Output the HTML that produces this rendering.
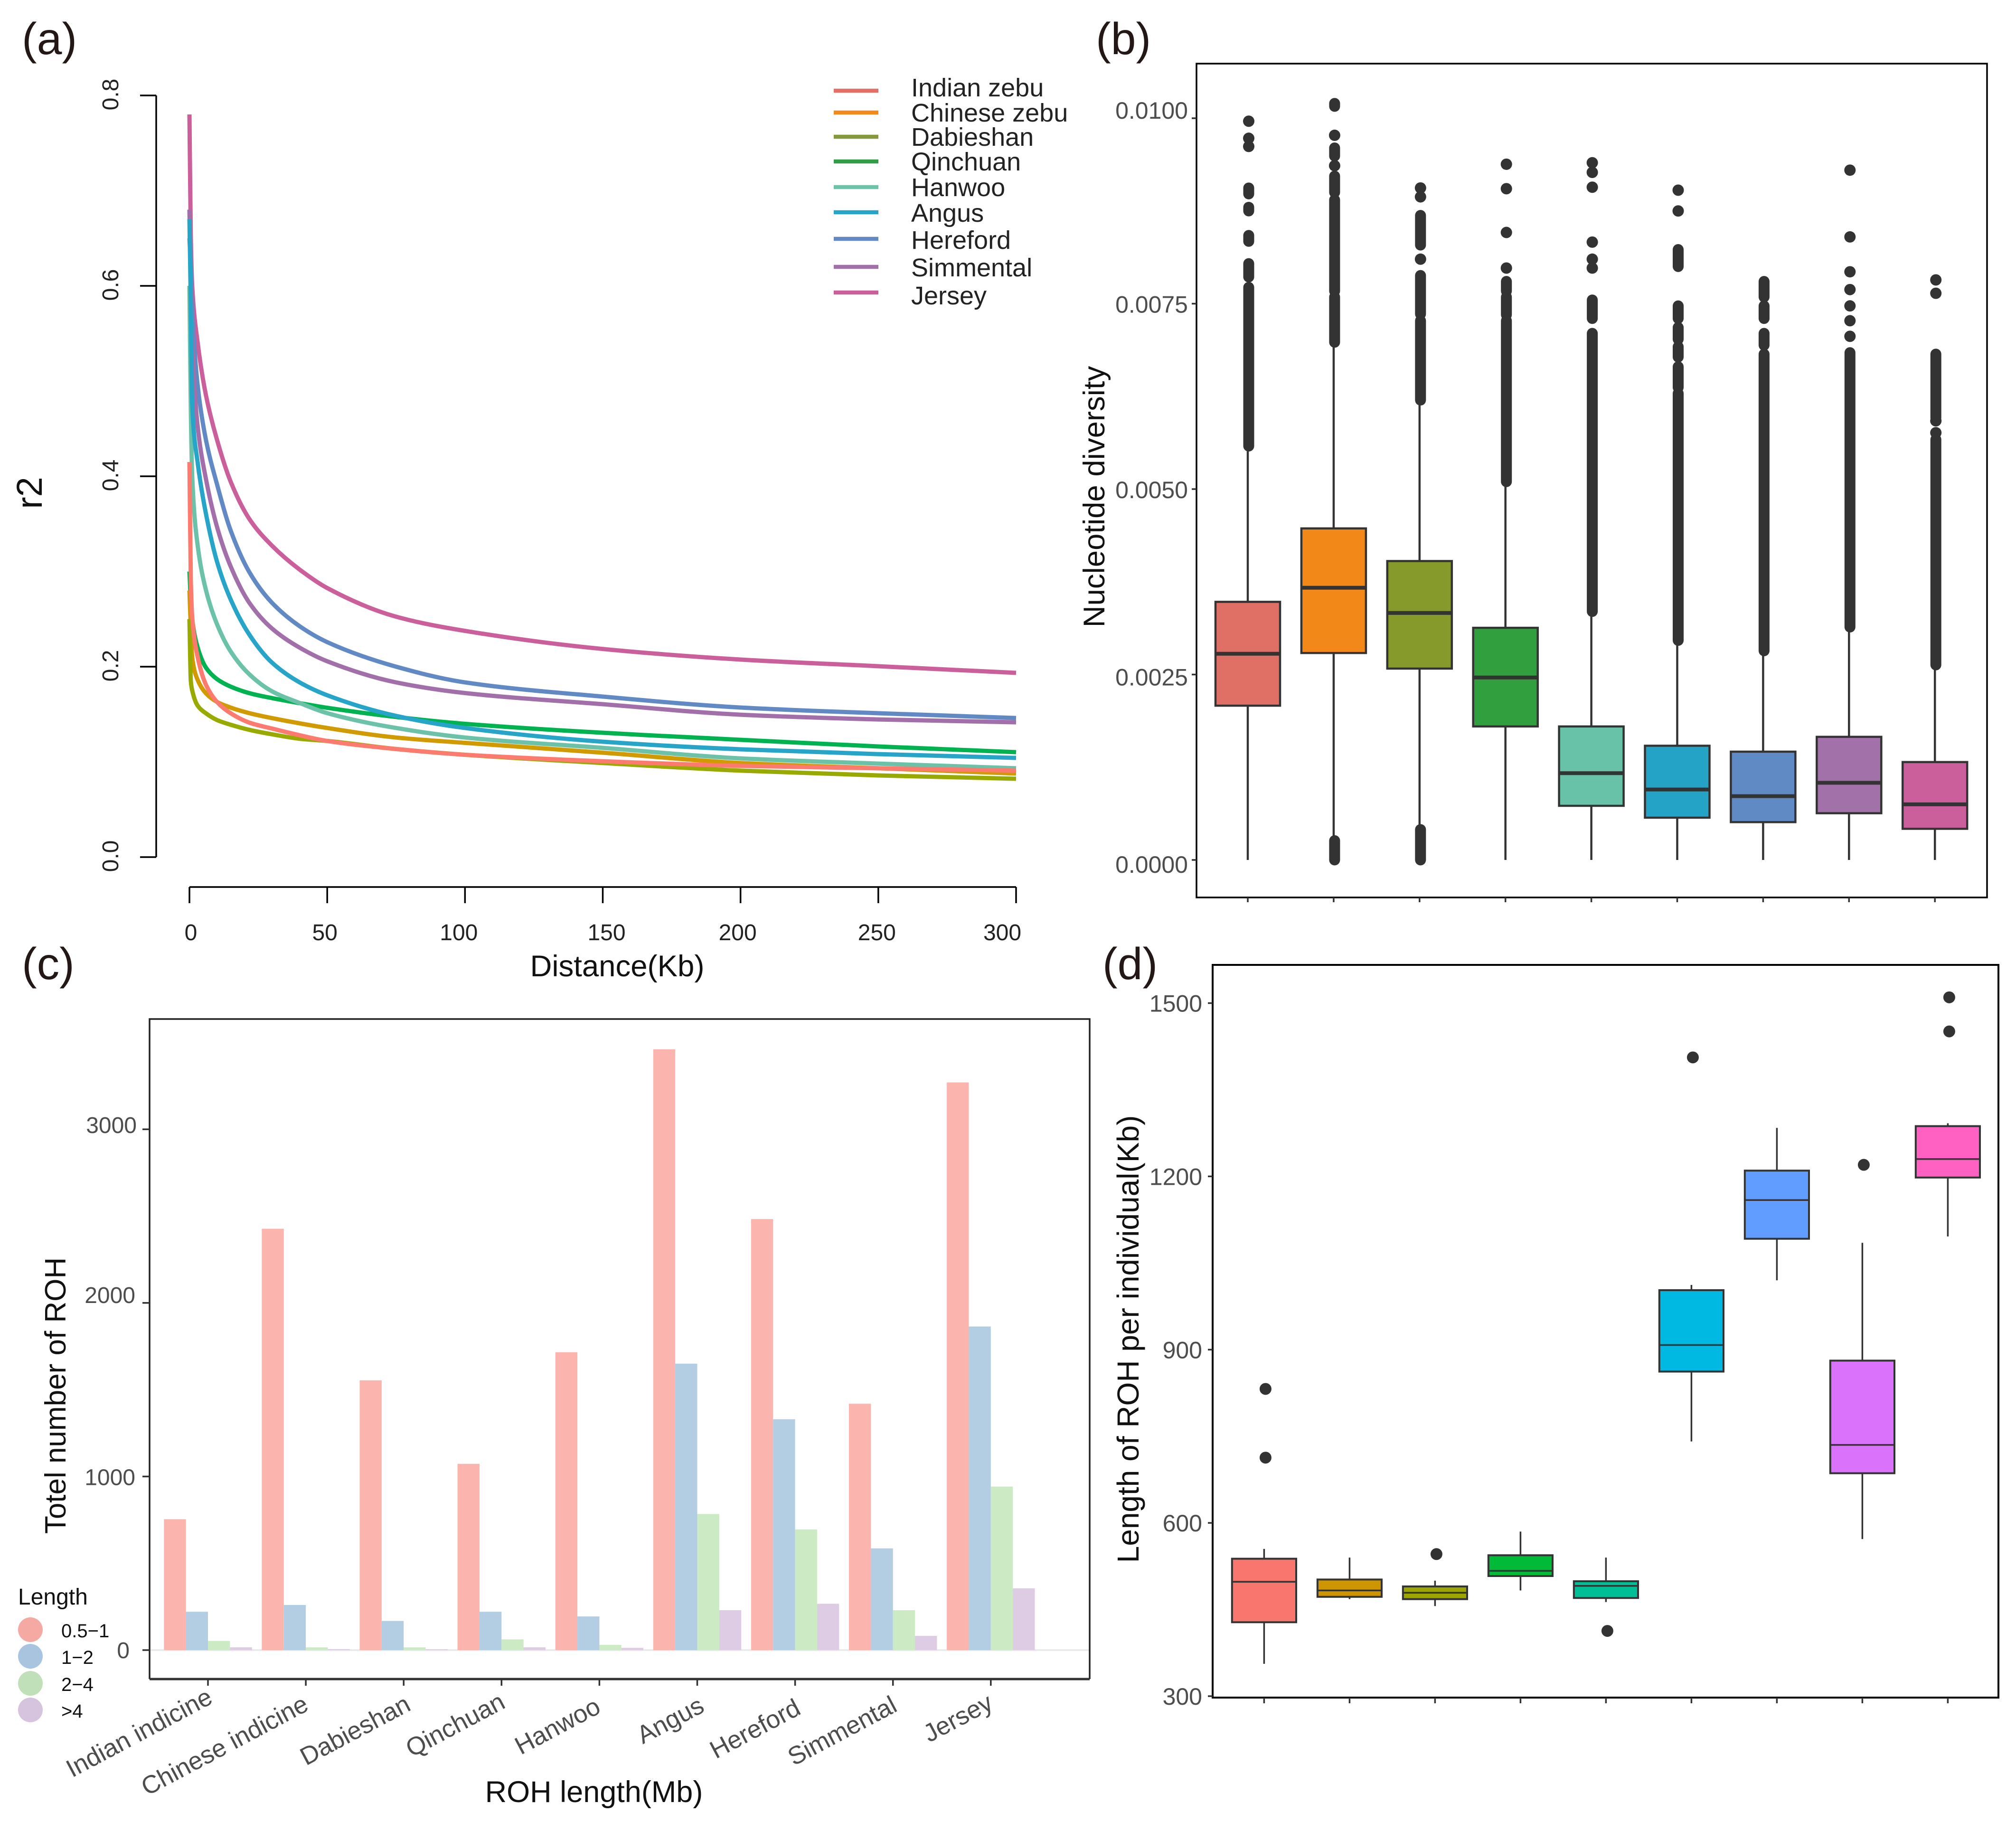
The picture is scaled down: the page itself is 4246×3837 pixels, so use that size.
<!DOCTYPE html>
<html lang="en">
<head>
<meta charset="utf-8">
<title>Bovine LD, diversity and ROH panels</title>
<style>
html,body{margin:0;padding:0;background:#fff}
svg{display:block}
text{font-family:"Liberation Sans",sans-serif}
</style>
</head>
<body>
<svg id="fig" xmlns="http://www.w3.org/2000/svg" width="4246" height="3837" viewBox="0 0 4246 3837">
  <rect width="4246" height="3837" fill="#fff"/>
  <g font-size="95" fill="#231815">
    <text x="46" y="114">(a)</text>
    <text x="2308" y="114">(b)</text>
    <text x="46" y="2062">(c)</text>
    <text x="2322" y="2062">(d)</text>
  </g>
  <g id="panelA">
    <text font-size="76" text-anchor="middle" transform="translate(88 1038) rotate(-90)" fill="#111">r2</text>
    <text font-size="63.5" text-anchor="middle" x="1300" y="2056" fill="#111">Distance(Kb)</text>
  </g>
  <g id="panelB">
    <text font-size="63.5" text-anchor="middle" transform="translate(2326 1046) rotate(-90)" fill="#111">Nucleotide diversity</text>
  </g>
  <g id="panelC">
    <text font-size="62" text-anchor="middle" transform="translate(138 2939) rotate(-90)" fill="#111">Totel number of ROH</text>
    <text font-size="63" text-anchor="middle" x="1251" y="3795" fill="#111">ROH length(Mb)</text>
    <text font-size="48" x="38" y="3379" fill="#111">Length</text>
  </g>
  <g id="panelD">
    <text font-size="64" text-anchor="middle" transform="translate(2398 2820) rotate(-90)" fill="#111">Length of ROH per individual(Kb)</text>
  </g>
</svg>
<script>
// ---------- Panel (a): LD decay ----------
const ldDistanceKb = [0,0.5,1,3,6,10,15,22,30,40,50,75,100,150,200,250,300];
const ldNames = ["Indian zebu","Chinese zebu","Dabieshan","Qinchuan","Hanwoo","Angus","Hereford","Simmental","Jersey"];
const r2IndianZebu  = [.415,.29,.252,.21,.181,.163,.151,.141,.135,.128,.122,.1135,.1075,.1007,.0958,.0933,.0908];
const r2ChineseZebu = [.28,.24,.21,.186,.172,.163,.157,.151,.146,.1405,.1356,.1256,.12,.1097,.0988,.0933,.0878];
const r2Dabieshan   = [.25,.185,.175,.159,.151,.144,.139,.1335,.129,.1243,.122,.1135,.1075,.0988,.0908,.0858,.0823];
const r2Qinchuan    = [.30,.27,.25,.22,.199,.187,.179,.172,.167,.1617,.1568,.1472,.14,.1306,.1232,.1162,.1102];
const r2Hanwoo      = [.60,.47,.40,.327,.2803,.2447,.2158,.1913,.1741,.1619,.1512,.1356,.1256,.1147,.1037,.0982,.0933];
const r2Angus       = [.67,.58,.475,.414,.3605,.3104,.2703,.2325,.2042,.1835,.170,.1483,.1356,.1212,.1132,.1082,.1042];
const r2Hereford    = [.65,.62,.575,.495,.438,.3917,.3427,.298,.267,.2425,.2258,.2,.1835,.1686,.1571,.1511,.1461];
const r2Simmental   = [.68,.60,.54,.452,.397,.347,.305,.266,.24,.22,.2057,.1835,.1723,.1606,.1496,.1446,.1416];
const r2Jersey      = [.78,.65,.60,.54,.485,.4384,.394,.354,.327,.302,.2826,.2525,.2376,.2186,.2075,.2005,.1935];
const aXTicks = [0,50,100,150,200,250,300];
const aYTicks = [0,0.2,0.4,0.6,0.8];
const aYTickLabels = ["0.0","0.2","0.4","0.6","0.8"];

// ---------- Panel (b): nucleotide diversity (values x 1e-4) ----------
const bYTicks = [0,25,50,75,100];
const bYTickLabels = ["0.0000","0.0025","0.0050","0.0075","0.0100"];
const bQ1   = [20.8,27.9,25.8,18.0,7.3,5.7,5.1,6.3,4.2];
const bMed  = [27.8,36.7,33.3,24.6,11.7,9.5,8.6,10.4,7.5];
const bQ3   = [34.8,44.7,40.3,31.3,18.0,15.4,14.6,16.6,13.2];
const bLow  = [0,2.9,4.5,0,0,0,0,0,0];
const bHigh = [55.1,69.4,61.6,50.9,33.5,29.6,28.2,31.4,26.3];
const bOutlierPoints = [
  [99.6,97.3,96.2],
  [97.7,93.6],
  [90.6,89.4,81],
  [93.8,90.5,84.6,79.8],
  [94,92.7,90.7,83.3,81,79.8],
  [90.3,87.5],
  [],
  [93,84,79.3,76.9,74.7,72.7,70.6],
  [78.2,76.4,59.2,57.6]
];
const bOutlierRuns = [
  [[89.8,90.6],[87.5,88],[83.4,84.2],[78.6,80.4],[55.8,77.2]],
  [[101.6,102],[94.9,96],[90,92.2],[76.7,89],[69.8,75.9],[0,2.6]],
  [[82.9,86.9],[73.6,78.8],[62,72.7],[0,4.1]],
  [[76.7,78],[73.5,75.9],[51,72.7]],
  [[73,75.5],[33.5,71]],
  [[80,82.3],[73,74.7],[70.2,71.8],[67.8,69.2],[63.7,66.5],[29.6,62.9]],
  [[75.9,78],[73,74.7],[69.4,71],[28.2,68.2]],
  [[31.4,68.4]],
  [[59.6,68.2],[26.3,56.7]]
];

// ---------- Panel (c): ROH counts ----------
const cBreeds = ["Indian indicine","Chinese indicine","Dabieshan","Qinchuan","Hanwoo","Angus","Hereford","Simmental","Jersey"];
const cLengthClasses = ["0.5−1","1−2","2−4",">4"];
const cCount05to1 = [754,2427,1554,1073,1716,3461,2483,1419,3270];
const cCount1to2  = [221,260,168,221,194,1650,1330,586,1864];
const cCount2to4  = [53,16,16,62,30,784,695,230,942];
const cCountOver4 = [16,6,5,16,13,230,267,82,356];
const cYTicks = [0,1000,2000,3000];

// ---------- Panel (d): ROH length per individual ----------
const dYTicks = [300,600,900,1200,1500];
const dQ1   = [428,472,468,508,470,862,1092,686,1198];
const dMed  = [498,483,479,517,491,908,1159,735,1230];
const dQ3   = [538,502,490,544,499,1003,1210,881,1287];
const dLow  = [356,468,456,483,463,741,1020,572,1096];
const dHigh = [555,540,500,585,540,1012,1284,1085,1292];
const dOutliers = [[832,713],[],[546],[],[413],[1406],[],[1220],[1451,1510]];

const NS = "http://www.w3.org/2000/svg";
function mk(tag, parent, attrs) {
  const n = document.createElementNS(NS, tag);
  for (const k in attrs) n.setAttribute(k, attrs[k]);
  parent.appendChild(n);
  return n;
}
function tag(n, name, interactable) {
  
  
}
function monotonePath(xs, ys) {
  const n = xs.length, d = [], m = [];
  for (let i = 0; i < n - 1; i++) d.push((ys[i+1]-ys[i])/(xs[i+1]-xs[i]));
  m[0] = d[0]; m[n-1] = d[n-2];
  for (let i = 1; i < n - 1; i++) {
    if (d[i-1]*d[i] <= 0) { m[i] = 0; continue; }
    const h0 = xs[i]-xs[i-1], h1 = xs[i+1]-xs[i], w1 = 2*h1+h0, w2 = h1+2*h0;
    m[i] = (w1+w2)/(w1/d[i-1]+w2/d[i]);
  }
  let p = "M" + xs[0].toFixed(1) + " " + ys[0].toFixed(1);
  for (let i = 0; i < n - 1; i++) {
    const h = (xs[i+1]-xs[i])/3;
    p += "C" + (xs[i]+h).toFixed(1) + " " + (ys[i]+m[i]*h).toFixed(1) + " " +
         (xs[i+1]-h).toFixed(1) + " " + (ys[i+1]-m[i+1]*h).toFixed(1) + " " +
         xs[i+1].toFixed(1) + " " + ys[i+1].toFixed(1);
  }
  return p;
}

// ===== Panel A =====
(function () {
  const g = document.getElementById("panelA");
  const X = v => 399 + v * (2140 - 399) / 300;
  const Y = v => 1805 - v * 2005;
  const yAxis = mk("line", g, {x1:329,x2:329,y1:Y(0.8),y2:Y(0),stroke:"#000","stroke-width":3.5});
  tag(yAxis, "a-y-axis", false);
  aYTicks.forEach((t, i) => {
    const tick = mk("line", g, {x1:295,x2:329,y1:Y(t),y2:Y(t),stroke:"#000","stroke-width":3.5});
    tag(tick, "a-y-tick", false);
    const lab = mk("text", g, {"font-size":48,"text-anchor":"middle",fill:"#222",transform:"translate(249 " + (Y(t) - 2) + ") rotate(-90)"});
    lab.textContent = aYTickLabels[i];
    tag(lab, "a-y-tick-label", false);
  });
  const xAxis = mk("line", g, {x1:X(0),x2:X(300),y1:1868,y2:1868,stroke:"#000","stroke-width":3.5});
  tag(xAxis, "a-x-axis", false);
  const xLabelNudge = [3,-5,-13,8,-6,-3,-29];
  aXTicks.forEach((t, i) => {
    const tick = mk("line", g, {x1:X(t),x2:X(t),y1:1868,y2:1902,stroke:"#000","stroke-width":3.5});
    tag(tick, "a-x-tick", false);
    const lab = mk("text", g, {"font-size":48,"text-anchor":"middle",fill:"#222",x:X(t)+xLabelNudge[i],y:1980});
    lab.textContent = String(t);
    tag(lab, "a-x-tick-label", false);
  });
  const xs = ldDistanceKb.map(X);
  const lines = [
    [r2Jersey,"#CA5F9C","jersey"],
    [r2Hereford,"#618AC4","hereford"],
    [r2Simmental,"#A36FAA","simmental"],
    [r2Qinchuan,"#00B350","qinchuan"],
    [r2Hanwoo,"#6CC2A8","hanwoo"],
    [r2Angus,"#26A5C8","angus"],
    [r2ChineseZebu,"#D19A00","chinese-zebu"],
    [r2Dabieshan,"#98AA00","dabieshan"],
    [r2IndianZebu,"#FC7A6E","indian-zebu"]
  ];
  lines.forEach(l => {
    const path = mk("path", g, {d:monotonePath(xs, l[0].map(Y)),fill:"none",stroke:l[1],"stroke-width":9,"stroke-linejoin":"round"});
    tag(path, "ld-curve-" + l[2], false);
  });
  const legendColors = ["#E56F66","#F28A1B","#86993A","#2F9E44","#6CC3AA","#26A5C8","#618AC4","#A36FAA","#CA5F9C"];
  const legendLineY = [191,237,288,340,394,447,503,562,616];
  const legendTextY = [203,256,307,359,413,467,524,582,641];
  ldNames.forEach((name, i) => {
    const sw = mk("line", g, {x1:1756,x2:1850,y1:legendLineY[i],y2:legendLineY[i],stroke:legendColors[i],"stroke-width":8.5});
    tag(sw, "legend-swatch", false);
    const t = mk("text", g, {x:1919,y:legendTextY[i],"font-size":54,fill:"#222"});
    t.textContent = name;
    tag(t, "legend-entry", false);
  });
})();

// ===== Panel B =====
(function () {
  const g = document.getElementById("panelB");
  const Y = v => 1811 - v * (1811 - 249) / 100;
  const CX = i => 2628 + i * 180.9;
  const HW = 68;
  const colors = ["#E06F66","#F28818","#859A2A","#319F3E","#68C2A8","#25A3C6","#608AC4","#A371AA","#CA5F9C"];
  const frame = mk("rect", g, {x:2520,y:134,width:1665,height:1756,fill:"none",stroke:"#000","stroke-width":3.5});
  tag(frame, "b-plot-frame", false);
  const labelNudge = [9,5,1,1,-17];
  bYTicks.forEach((t, i) => {
    const tick = mk("line", g, {x1:2510,x2:2520,y1:Y(t),y2:Y(t),stroke:"#333","stroke-width":3.5});
    tag(tick, "b-y-tick", false);
    const lab = mk("text", g, {x:2502,y:Y(t)+18+labelNudge[i],"font-size":50,"text-anchor":"end",fill:"#4d4d4d"});
    lab.textContent = bYTickLabels[i];
    tag(lab, "b-y-tick-label", false);
  });
  colors.forEach((c, i) => {
    const cx = CX(i);
    const tick = mk("line", g, {x1:cx,x2:cx,y1:1890,y2:1900,stroke:"#333","stroke-width":3.5});
    tag(tick, "b-x-tick", false);
    const whisker = mk("line", g, {x1:cx,x2:cx,y1:Y(bLow[i]),y2:Y(bHigh[i]),stroke:"#333","stroke-width":4.5});
    tag(whisker, "b-whisker", false);
    bOutlierRuns[i].forEach(r => {
      const run = mk("line", g, {x1:cx+2,x2:cx+2,y1:Y(r[0]),y2:Y(r[1]),stroke:"#333","stroke-width":23,"stroke-linecap":"round"});
      tag(run, "b-outlier-cluster", false);
    });
    bOutlierPoints[i].forEach(v => {
      const dot = mk("circle", g, {cx:cx+2,cy:Y(v),r:12,fill:"#333"});
      tag(dot, "b-outlier", false);
    });
    const box = mk("rect", g, {x:cx-HW,y:Y(bQ3[i]),width:2*HW,height:Y(bQ1[i])-Y(bQ3[i]),fill:c,stroke:"#333","stroke-width":4.5});
    tag(box, "b-box", false);
    const med = mk("line", g, {x1:cx-HW,x2:cx+HW,y1:Y(bMed[i]),y2:Y(bMed[i]),stroke:"#333","stroke-width":8});
    tag(med, "b-median", false);
  });
})();

// ===== Panel C =====
(function () {
  const g = document.getElementById("panelC");
  const Y = v => 3475 - v * 0.3656;
  const CX = i => 438 + i * 206.1;
  const BW = 46.35;
  const colors = ["#FBB4AE","#B3CDE3","#CCEBC5","#DECBE4"];
  const series = [cCount05to1,cCount1to2,cCount2to4,cCountOver4];
  const zero = mk("line", g, {x1:315,x2:2295,y1:Y(0),y2:Y(0),stroke:"#ebebeb","stroke-width":4});
  tag(zero, "c-zero-line", false);
  series.forEach((vals, s) => {
    vals.forEach((v, i) => {
      const bar = mk("rect", g, {x:CX(i)-2*BW+s*BW,y:Y(v),width:BW,height:Y(0)-Y(v),fill:colors[s]});
      tag(bar, "bar-" + cLengthClasses[s].replace(/[^0-9a-z]+/g,"-") + "-" + cBreeds[i].toLowerCase().replace(/ /g,"-"), false);
    });
  });
  const frame = mk("path", g, {d:"M315 3536V2146H2295V3536",fill:"none",stroke:"#222","stroke-width":3.5});
  tag(frame, "c-plot-frame", false);
  const base = mk("line", g, {x1:315,x2:2295,y1:3536,y2:3536,stroke:"#333","stroke-width":5});
  tag(base, "c-x-axis", false);
  const labelRight = [273,285,285,288];
  const labelNudge = [0,1,-17,-9];
  cYTicks.forEach((t, i) => {
    const tick = mk("line", g, {x1:300,x2:315,y1:Y(t),y2:Y(t),stroke:"#333","stroke-width":3.5});
    tag(tick, "c-y-tick", false);
    const lab = mk("text", g, {x:labelRight[i],y:Y(t)+17+labelNudge[i],"font-size":48,"text-anchor":"end",fill:"#4d4d4d"});
    lab.textContent = String(t);
    tag(lab, "c-y-tick-label", false);
  });
  const endDx = [13,9,18,11,6,18,15,12,8];
  const endY = [3585,3600,3600,3595,3605,3603,3608,3602,3597];
  cBreeds.forEach((b, i) => {
    const tick = mk("line", g, {x1:CX(i),x2:CX(i),y1:3536,y2:3550,stroke:"#333","stroke-width":3.5});
    tag(tick, "c-x-tick", false);
    const lab = mk("text", g, {"font-size":53,"text-anchor":"end",fill:"#4d4d4d",transform:"translate(" + (CX(i)+endDx[i]) + " " + endY[i] + ") rotate(-28)"});
    lab.textContent = b;
    tag(lab, "c-x-tick-label", false);
  });
  const legendFill = ["#F4A9A3","#A9C4DF","#BFE0B8","#D6C4DF"];
  const legendCY = [3432,3488,3545,3601];
  cLengthClasses.forEach((name, i) => {
    const dot = mk("circle", g, {cx:64,cy:legendCY[i],r:26,fill:legendFill[i]});
    tag(dot, "c-legend-key", false);
    const lab = mk("text", g, {x:129,y:legendCY[i]+5+11,"font-size":40,fill:"#111"});
    lab.textContent = name;
    tag(lab, "c-legend-entry", false);
  });
})();

// ===== Panel D =====
(function () {
  const g = document.getElementById("panelD");
  const Y = v => 3572 - (v - 300) * (3572 - 2112.5) / 1200;
  const CX = i => 2662.4 + i * 180;
  const HW = 67.6;
  const colors = ["#F8766D","#CD9600","#9BA700","#00BA38","#00BF96","#00B9E3","#619CFF","#DB72FB","#FF61C3"];
  const frame = mk("rect", g, {x:2554,y:2032,width:1655,height:1543,fill:"none",stroke:"#000","stroke-width":4});
  tag(frame, "d-plot-frame", false);
  dYTicks.forEach(t => {
    const tick = mk("line", g, {x1:2544,x2:2554,y1:Y(t),y2:Y(t),stroke:"#333","stroke-width":3.5});
    tag(tick, "d-y-tick", false);
    const lab = mk("text", g, {x:2532,y:Y(t)+18,"font-size":50,"text-anchor":"end",fill:"#4d4d4d"});
    lab.textContent = String(t);
    tag(lab, "d-y-tick-label", false);
  });
  colors.forEach((c, i) => {
    const cx = CX(i);
    const tick = mk("line", g, {x1:cx,x2:cx,y1:3575,y2:3587,stroke:"#333","stroke-width":3.5});
    tag(tick, "d-x-tick", false);
    const whisker = mk("line", g, {x1:cx,x2:cx,y1:Y(dLow[i]),y2:Y(dHigh[i]),stroke:"#333","stroke-width":3.5});
    tag(whisker, "d-whisker", false);
    dOutliers[i].forEach(v => {
      const dot = mk("circle", g, {cx:cx+3,cy:Y(v),r:12.5,fill:"#333"});
      tag(dot, "d-outlier", false);
    });
    const box = mk("rect", g, {x:cx-HW,y:Y(dQ3[i]),width:2*HW,height:Y(dQ1[i])-Y(dQ3[i]),fill:c,stroke:"#333","stroke-width":4});
    tag(box, "d-box", false);
    const med = mk("line", g, {x1:cx-HW,x2:cx+HW,y1:Y(dMed[i]),y2:Y(dMed[i]),stroke:"#333","stroke-width":3.5});
    tag(med, "d-median", false);
  });
})();
</script>
</body>
</html>
